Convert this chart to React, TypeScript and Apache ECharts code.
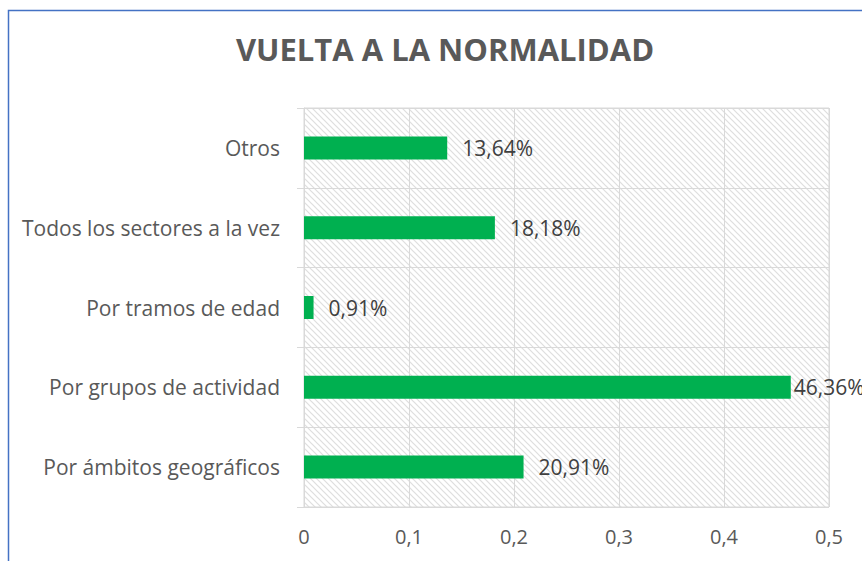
import React, { useEffect, useRef } from "react";
import * as echarts from "echarts";

const categories = [
  "Por ámbitos geográficos",
  "Por grupos de actividad",
  "Por tramos de edad",
  "Todos los sectores a la vez",
  "Otros",
];
const values = [0.2091, 0.4636, 0.0091, 0.1818, 0.1364];
const xTicks = [0, 0.1, 0.2, 0.3, 0.4, 0.5];
const title = "VUELTA A LA NORMALIDAD";

function hatchURL(): string {
  const s = 6;
  const svg = `<svg xmlns="http://www.w3.org/2000/svg" width="${s}" height="${s}"><rect width="${s}" height="${s}" fill="#ffffff"/><path d="M0 0 L${s} ${s} M${-s} 0 L${s} ${2 * s} M0 ${-s} L${2 * s} ${s}" stroke="#dedede" stroke-width="1.2"/></svg>`;
  return "data:image/svg+xml;base64," + btoa(svg);
}

export default function App() {
  const ref = useRef<HTMLDivElement>(null);
  useEffect(() => {
    document.body.style.margin = "0";
    const chart = echarts.init(ref.current!, null, { renderer: "svg" });
    const font = "'Open Sans', sans-serif";
    const maxV = Math.max(...values);
    chart.setOption({
      animation: false,
      textStyle: { fontFamily: font },
      title: {
        text: title,
        left: 440,
        top: 28,
        textAlign: "center",
        textStyle: { fontSize: 31, fontWeight: "bold", color: "#595959", fontFamily: font },
      },
      graphic: [
        {
          type: "rect",
          shape: { x: 8.5, y: 10.5, width: 900, height: 600 },
          style: { fill: "none", stroke: "#4472C4", lineWidth: 1.5 },
          z: 100,
        },
      ],
      grid: {
        left: 304,
        top: 108,
        right: 33,
        bottom: 54,
        show: true,
        borderColor: "#d9d9d9",
        borderWidth: 1,
        backgroundColor: { image: hatchURL(), repeat: "repeat" },
      },
      xAxis: {
        type: "value",
        min: 0,
        max: 0.5,
        interval: 0.1,
        axisLine: { show: false },
        axisTick: { show: false },
        splitLine: { show: true, lineStyle: { color: "#d9d9d9", width: 1 } },
        axisLabel: {
          color: "#595959",
          fontSize: 20,
          margin: 19,
          formatter: (v: number) => {
            const t = xTicks.find((x) => Math.abs(x - v) < 1e-9);
            return String(t ?? v).replace(".", ",");
          },
        },
      },
      yAxis: {
        type: "category",
        data: categories,
        axisLine: { show: true, lineStyle: { color: "#d9d9d9" } },
        axisTick: { show: true, length: 7, lineStyle: { color: "#d9d9d9" } },
        splitLine: { show: true, lineStyle: { color: "#d9d9d9", width: 1 } },
        axisLabel: { color: "#595959", fontSize: 21, margin: 24 },
      },
      series: [
        {
          type: "bar",
          data: values.map((v) =>
            v === maxV ? { value: v, label: { distance: 3 } } : v
          ),
          barWidth: 23,
          itemStyle: { color: "#00B050" },
          label: {
            show: true,
            position: "right",
            distance: 15,
            color: "#404040",
            fontSize: 21,
            formatter: (p: any) => (p.value * 100).toFixed(2).replace(".", ",") + "%",
          },
        },
      ],
    });
    return () => chart.dispose();
  }, []);
  return <div ref={ref} style={{ width: 862, height: 561 }} />;
}
